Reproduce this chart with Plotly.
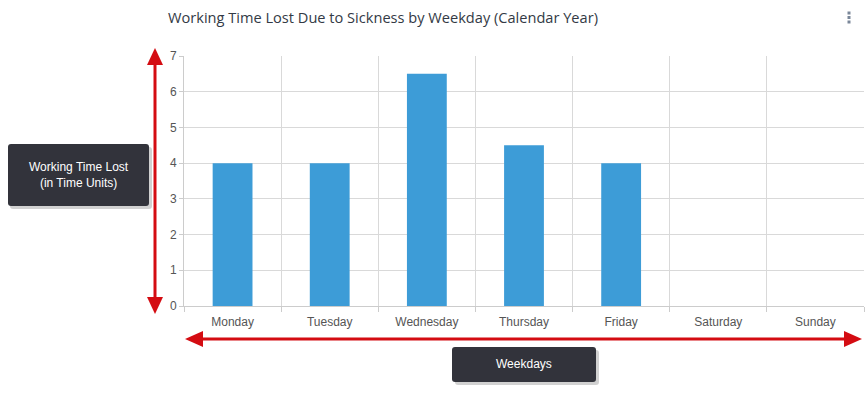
import plotly.graph_objects as go

weekdays = ["Monday", "Tuesday", "Wednesday", "Thursday", "Friday", "Saturday", "Sunday"]
time_lost = [4, 4, 6.5, 4.5, 4, 0, 0]
y_ticks = [0, 1, 2, 3, 4, 5, 6, 7]

W, H = 868, 395
L, R, T, B = 184, 4, 56, 89
PW, PH = W - L - R, H - T - B


def px(x):
    return (x - L) / PW


def py(y):
    return (H - B - y) / PH


fig = go.Figure(go.Bar(
    x=weekdays, y=time_lost, marker=dict(color="#3d9cd7", line=dict(width=0)),
    hoverinfo="x+y",
))

RED = "#d40c12"
DARK = "#32333b"
shapes = []


def tri(p1, p2, p3, color):
    return dict(type="path", xref="paper", yref="paper",
                path=f"M {px(p1[0])},{py(p1[1])} L {px(p2[0])},{py(p2[1])} L {px(p3[0])},{py(p3[1])} Z",
                fillcolor=color, line=dict(width=0), layer="above")


def line(x0, y0, x1, y1, color, w):
    return dict(type="line", xref="paper", yref="paper", x0=px(x0), y0=py(y0), x1=px(x1), y1=py(y1),
                line=dict(color=color, width=w), layer="above")


def rect(x0, y0, x1, y1, color):
    return dict(type="rect", xref="paper", yref="paper", x0=px(x0), y0=py(y0), x1=px(x1), y1=py(y1),
                fillcolor=color, line=dict(width=0), layer="above")


def rbox(x0, y0, x1, y1, color, r=3):
    p = (f"M {px(x0 + r)},{py(y0)} L {px(x1 - r)},{py(y0)} Q {px(x1)},{py(y0)} {px(x1)},{py(y0 + r)} "
         f"L {px(x1)},{py(y1 - r)} Q {px(x1)},{py(y1)} {px(x1 - r)},{py(y1)} "
         f"L {px(x0 + r)},{py(y1)} Q {px(x0)},{py(y1)} {px(x0)},{py(y1 - r)} "
         f"L {px(x0)},{py(y0 + r)} Q {px(x0)},{py(y0)} {px(x0 + r)},{py(y0)} Z")
    return dict(type="path", xref="paper", yref="paper", path=p, fillcolor=color,
                line=dict(width=0), layer="above")


# vertical arrow
shapes.append(line(155, 60, 155, 300, RED, 3))
shapes.append(tri((155, 48), (147, 65), (163, 65), RED))
shapes.append(tri((155, 314), (147, 297), (163, 297), RED))
# horizontal arrow
shapes.append(line(198, 339, 848, 339, RED, 3))
shapes.append(tri((185, 339), (203, 331), (203, 347), RED))
shapes.append(tri((862, 339), (844, 331), (844, 347), RED))

# label boxes with shadow
shapes.append(rbox(10, 147, 152, 209, "rgba(0,0,0,0.18)"))
shapes.append(rbox(8, 144, 149, 206, DARK))
shapes.append(rbox(455, 350, 599, 385, "rgba(0,0,0,0.18)"))
shapes.append(rbox(452, 347, 596, 382, DARK))

# kebab menu dots
for cy in (13, 17.5, 22):
    shapes.append(rect(847.5, cy - 1.5, 850.5, cy + 1.5, "#7a8799"))

annotations = [
    dict(text="Working Time Lost<br>(in Time Units)", xref="paper", yref="paper",
         x=px(78.5), y=py(175), showarrow=False, xanchor="center", yanchor="middle",
         font=dict(family="Liberation Sans, Arial", size=12, color="#ffffff")),
    dict(text="Weekdays", xref="paper", yref="paper",
         x=px(524), y=py(364), showarrow=False, xanchor="center", yanchor="middle",
         font=dict(family="Liberation Sans, Arial", size=12, color="#ffffff")),
]

fig.update_layout(
    width=W, height=H,
    margin=dict(l=L, r=R, t=T, b=B, pad=0),
    paper_bgcolor="#ffffff", plot_bgcolor="#ffffff",
    bargap=0.59,
    showlegend=False,
    title=dict(text="Working Time Lost Due to Sickness by Weekday (Calendar Year)",
               xref="container", yref="container", x=168 / W, y=1 - 18 / H,
               xanchor="left", yanchor="middle",
               font=dict(family="Open Sans", size=14.6, color="#333a45")),
    xaxis=dict(
        type="category", tickson="boundaries", showgrid=True, gridcolor="#d9d9d9", gridwidth=1,
        showline=True, linecolor="#cccccc", linewidth=1, mirror=False,
        ticks="outside", ticklen=5, tickcolor="#cccccc", ticklabelstandoff=5,
        tickfont=dict(family="Liberation Sans, Arial", size=12, color="#555555"),
        fixedrange=True,
    ),
    yaxis=dict(
        range=[0, 7], tickvals=y_ticks, showgrid=True, gridcolor="#d9d9d9", gridwidth=1,
        showline=True, linecolor="#cccccc", linewidth=1, zeroline=False,
        ticks="outside", ticklen=4, tickcolor="#cccccc",
        tickfont=dict(family="Liberation Sans, Arial", size=12, color="#555555"),
        fixedrange=True,
    ),
    shapes=shapes,
    annotations=annotations,
)

fig.write_html("out.html", config={"displayModeBar": False},
               post_script="document.body.style.margin='0';document.body.style.padding='0';")
